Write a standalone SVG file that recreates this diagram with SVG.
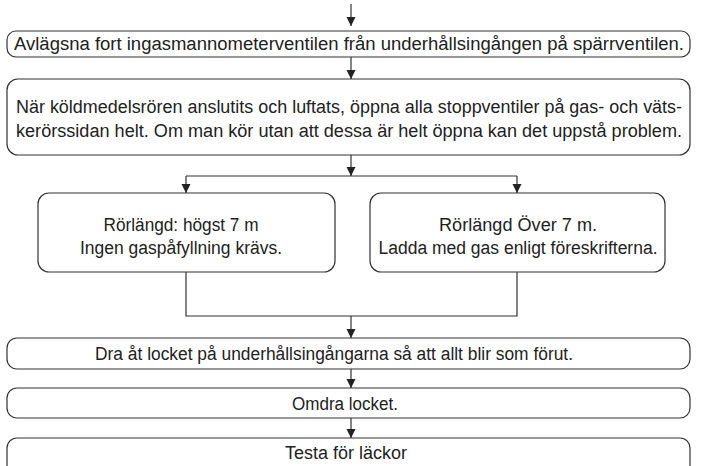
<svg xmlns="http://www.w3.org/2000/svg" width="703" height="466" viewBox="0 0 703 466">
<defs>
<marker id="ah" markerWidth="10" markerHeight="10" refX="9" refY="5" orient="auto" markerUnits="userSpaceOnUse">
<path d="M0,0.5 L9,5 L0,9.5 Z" fill="#222"/>
</marker>
<style>
.box{fill:#fff;stroke:#333;stroke-width:1.2}
.ln{fill:none;stroke:#333;stroke-width:1.2}
.ar{fill:none;stroke:#333;stroke-width:1.2;marker-end:url(#ah)}
text{font-family:"Liberation Sans Narrow","Liberation Sans",Arial,sans-serif;font-size:18px;fill:#222}
.c{text-anchor:middle}
</style>
</defs>
<rect width="703" height="466" fill="#fff"/>
<g id="connectors">
<line class="ar" x1="351" y1="4" x2="351" y2="26"/>
<line class="ar" x1="351" y1="57" x2="351" y2="79"/>
<line class="ln" x1="186" y1="176" x2="517" y2="176"/>
<line class="ar" x1="351" y1="155" x2="351" y2="176"/>
<line class="ar" x1="186" y1="176" x2="186" y2="193"/>
<line class="ar" x1="517" y1="176" x2="517" y2="193"/>
<polyline class="ln" points="186,272 186,316 517,316 517,272"/>
<line class="ar" x1="351" y1="316" x2="351" y2="338"/>
<line class="ar" x1="351" y1="369" x2="351" y2="388"/>
<line class="ar" x1="351" y1="418" x2="351" y2="438"/>
</g>
<g id="n1">
<rect class="box" x="7" y="31" width="683" height="26" rx="9"/>
<text x="14" y="50" textLength="670" lengthAdjust="spacingAndGlyphs">Avlägsna fort ingasmannometerventilen från underhållsingången på spärrventilen.</text>
</g>
<g id="n2">
<rect class="box" x="7" y="79" width="683" height="76" rx="11"/>
<text x="16" y="113" textLength="666" lengthAdjust="spacingAndGlyphs">När köldmedelsrören anslutits och luftats, öppna alla stoppventiler på gas- och väts-</text>
<text x="16" y="137" textLength="666" lengthAdjust="spacingAndGlyphs">kerörssidan helt. Om man kör utan att dessa är helt öppna kan det uppstå problem.</text>
</g>
<g id="n3">
<rect class="box" x="38" y="193" width="297" height="79" rx="11"/>
<text class="c" x="181" y="231" textLength="155" lengthAdjust="spacingAndGlyphs">Rörlängd: högst 7 m</text>
<text class="c" x="181" y="254" textLength="202" lengthAdjust="spacingAndGlyphs">Ingen gaspåfyllning krävs.</text>
</g>
<g id="n4">
<rect class="box" x="370" y="193" width="295" height="79" rx="11"/>
<text class="c" x="518" y="231" textLength="158" lengthAdjust="spacingAndGlyphs">Rörlängd Över 7 m.</text>
<text class="c" x="518" y="254" textLength="279" lengthAdjust="spacingAndGlyphs">Ladda med gas enligt föreskrifterna.</text>
</g>
<g id="n5">
<rect class="box" x="7" y="338" width="683" height="31" rx="10"/>
<text class="c" x="334" y="360" textLength="478" lengthAdjust="spacingAndGlyphs">Dra åt locket på underhållsingångarna så att allt blir som förut.</text>
</g>
<g id="n6">
<rect class="box" x="7" y="388" width="683" height="30" rx="10"/>
<text class="c" x="345" y="410" textLength="106" lengthAdjust="spacingAndGlyphs">Omdra locket.</text>
</g>
<g id="n7">
<rect class="box" x="7" y="438" width="683" height="40" rx="10"/>
<text class="c" x="346" y="459" textLength="122" lengthAdjust="spacingAndGlyphs">Testa för läckor</text>
</g>
</svg>
